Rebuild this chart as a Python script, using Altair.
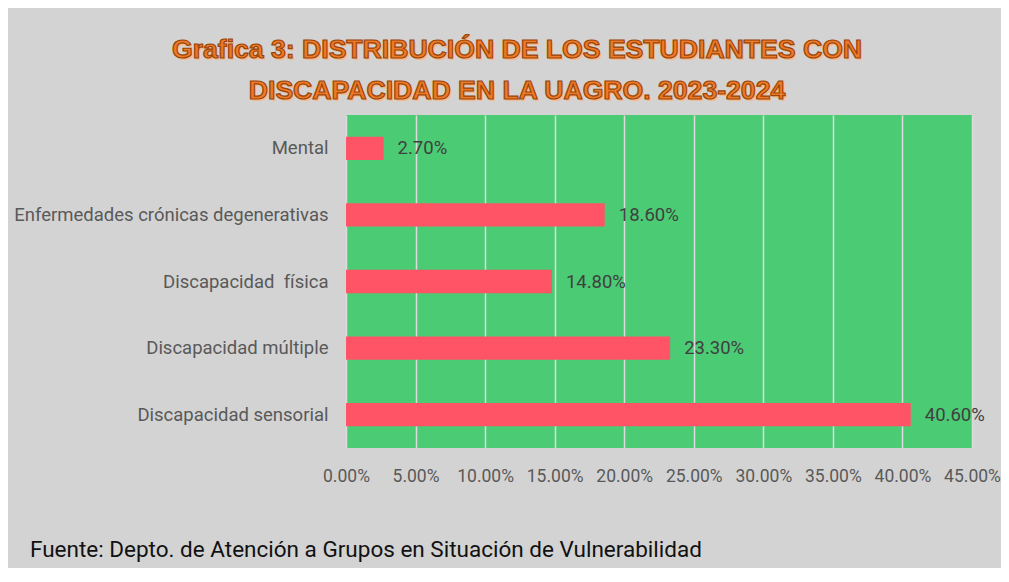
import altair as alt
import pandas as pd

categories = ["Mental", "Enfermedades crónicas degenerativas", "Discapacidad\u00a0 física",
              "Discapacidad múltiple", "Discapacidad sensorial"]
values = [0.027, 0.186, 0.148, 0.233, 0.406]
tick_values = [0.0, 0.05, 0.10, 0.15, 0.20, 0.25, 0.30, 0.35, 0.40, 0.45]
title_lines = ["Grafica 3: DISTRIBUCIÓN DE LOS ESTUDIANTES CON",
               "DISCAPACIDAD EN LA UAGRO. 2023-2024"]
source_text = ["Fuente: Depto. de Atención a Grupos en Situación de Vulnerabilidad"]

df = pd.DataFrame({"cat": categories, "val": values})

y_enc = alt.Y("cat:N", sort=categories,
              scale=alt.Scale(paddingInner=0.65, paddingOuter=0.325),
              axis=alt.Axis(title=None, labelFontSize=18.5, labelColor="#595959",
                            labelFont="Roboto", labelPadding=18, ticks=False,
                            domain=False, labelLimit=400))
x_enc = alt.X("val:Q", scale=alt.Scale(domain=[0, 0.45], nice=False, zero=True),
              axis=alt.Axis(title=None, format=".2%", values=tick_values,
                            labelFontSize=17.5, labelColor="#595959", labelFont="Roboto",
                            labelPadding=19, ticks=False, domain=False, labelOverlap=False,
                            labelFlush=False,
                            grid=True, gridColor="#DCDCDC", gridWidth=1.5))

bars = alt.Chart(df).mark_bar(color="#FF5466").encode(y=y_enc, x=x_enc)
labels = alt.Chart(df).mark_text(align="left", baseline="middle", dx=14,
                                 fontSize=18.5, font="Roboto", color="#404040").encode(
    y=alt.Y("cat:N", sort=categories), x="val:Q",
    text=alt.Text("val:Q", format=".2%"))

tdf = pd.DataFrame({"line": title_lines, "ypos": [-57, -16]})
title_shadow = alt.Chart(tdf).mark_text(
    align="center", baseline="alphabetic", font="Liberation Sans", fontWeight="bold",
    fontSize=26.6, color="#F6B98A", dx=2, dy=2).encode(
    text="line:N", x=alt.value(171), y=alt.Y("ypos:Q", scale=None))
title_main = alt.Chart(tdf).mark_text(
    align="center", baseline="alphabetic", font="Liberation Sans", fontWeight="bold",
    fontSize=26.6, fill="#EE7A28", stroke="#9A4408", strokeWidth=1.2).encode(
    text="line:N", x=alt.value(171), y=alt.Y("ypos:Q", scale=None))

sdf = pd.DataFrame({"line": source_text})
source = alt.Chart(sdf).mark_text(
    align="left", baseline="alphabetic", font="Roboto", fontSize=22.5,
    color="#111111").encode(text="line:N", x=alt.value(-316), y=alt.value(442))

chart = alt.layer(bars, labels, title_shadow, title_main, source).properties(
    width=626, height=333,
    autosize=alt.AutoSizeParams(type="none"),
    padding={"left": 338, "top": 107, "right": 29, "bottom": 120},
    background="#D3D3D3",
).configure_view(fill="#4BCB74", stroke=None)

chart.save("out.html", embed_options={"renderer": "svg", "actions": False})
